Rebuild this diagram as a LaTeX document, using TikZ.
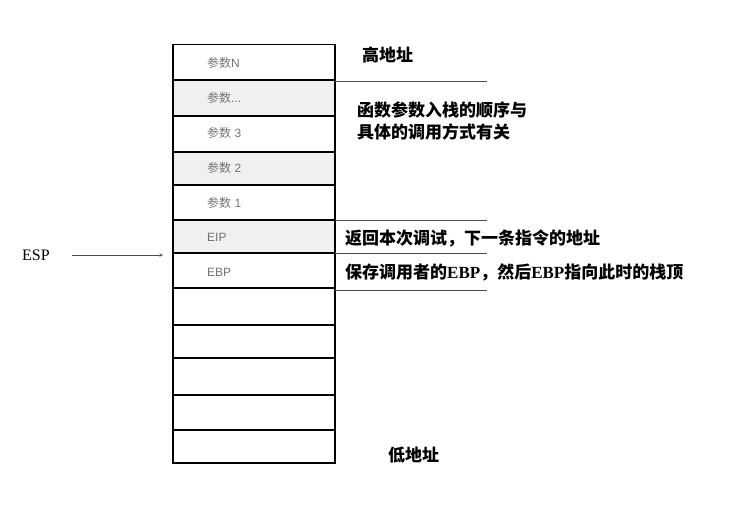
\documentclass[tikz,border=0pt]{standalone}
\usepackage{fontspec}
\setmainfont{Liberation Serif}
\newfontfamily\cjk{Noto Sans CJK SC}
\newfontfamily\lsans{Liberation Sans}
\begin{document}
\begin{tikzpicture}[x=1pt,y=-1pt,
  cell/.style={draw=black,line width=1.4pt},
  shade/.style={fill=black!6},
  lbl/.style={anchor=west,font=\lsans\fontsize{12}{14}\selectfont,text=black!55,inner sep=0},
  note/.style={anchor=west,font=\cjk\bfseries\fontsize{17}{22}\selectfont,inner sep=0},
  rule/.style={draw=black!70,line width=0.7pt}]
\useasboundingbox (0,0) rectangle (732,522);
\fill[shade] (173,80) rectangle (335,116);
\fill[shade] (173,152) rectangle (335,185);
\fill[shade] (173,220) rectangle (335,253);
\foreach \a/\b in {44.7/80,80/116,116/152,152/185,185/220,220/253,253/288,288/325,325/358,358/395,395/430,430/463}
  \draw[cell] (173,\a) rectangle (335,\b);
\node[lbl] (pN) at (207,63) {{\cjk 参数}N};
\node[lbl] (pd) at (207,98) {{\cjk 参数}...};
\node[lbl] (p3) at (207,133) {{\cjk 参数} 3};
\node[lbl] (p2) at (207,168) {{\cjk 参数} 2};
\node[lbl] (p1) at (207,203) {{\cjk 参数} 1};
\node[lbl] (eip) at (207,237) {EIP};
\node[lbl] (ebp) at (207,272) {EBP};
\coordinate (r1) at (335,81); \coordinate (e1) at (487,81);
\coordinate (r2) at (335,220); \coordinate (e2) at (487,220);
\coordinate (r3) at (335,253); \coordinate (e3) at (487,253);
\coordinate (r4) at (335,290); \coordinate (e4) at (487,290);
\draw[rule] (r1)--(e1); \draw[rule] (r2)--(e2); \draw[rule] (r3)--(e3); \draw[rule] (r4)--(e4);
\node[note] (hi) at (362,55) {高地址};
\node[note,align=left] (ord) at (357,121) {函数参数入栈的顺序与\\具体的调用方式有关};
\node[note] (ret) at (345,238) {返回本次调试，下一条指令的地址};
\node[note] (sav) at (345,272) {保存调用者的{\rmfamily\bfseries EBP}，然后{\rmfamily\bfseries EBP}指向此时的栈顶};
\node[note] (lo) at (388,455) {低地址};
\node[anchor=west,inner sep=0,font=\fontsize{16}{18}\selectfont] (esp) at (22,255) {ESP};
\coordinate (a0) at (72,255); \coordinate (a1) at (163,255);
\draw[->,>=stealth,black!70,line width=0.6pt] (a0)--(a1);
\end{tikzpicture}
\end{document}
